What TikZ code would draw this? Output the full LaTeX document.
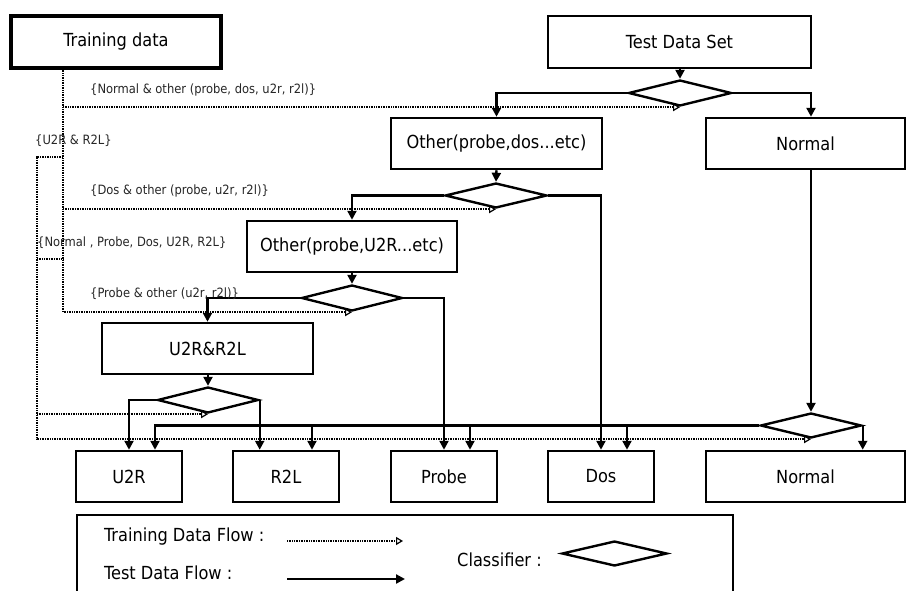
\documentclass[tikz,border=0pt]{standalone}
\usepackage{fontspec}
\setmainfont{DejaVu Sans Condensed}
\usetikzlibrary{shapes.geometric,arrows.meta,calc}
\begin{document}
\begin{tikzpicture}[x=1pt,y=-1pt,
  box/.style={draw,rectangle,line width=2.5pt,inner sep=0pt,
    font=\fontsize{18}{21}\selectfont},
  decision/.style={draw,diamond,line width=2.4pt,inner sep=0pt},
  testflow/.style={line width=2.4pt,-{Triangle[length=9pt,width=9pt]}},
  trainflow/.style={line width=2pt,dash pattern=on 1pt off 0.7pt,
    -{Triangle[open,length=7pt,width=8pt,line width=1.2pt]}},
  trainline/.style={line width=2pt,dash pattern=on 1pt off 0.7pt},
  setlabel/.style={font=\fontsize{12.8}{15}\selectfont,text=black!85,
    inner sep=0pt,anchor=west},
  legendtext/.style={font=\fontsize{18}{21}\selectfont,inner sep=0pt,
    anchor=base west},
]
\useasboundingbox (0,0) rectangle (906,590);
\clip (0,0) rectangle (906,590);

% ---- data sources ----
\node[box,minimum width=210pt,minimum height=52pt,line width=3.4pt] (train) at (116,42) {Training data};
\node[box,minimum width=263pt,minimum height=52pt] (test) at (679.5,42) {Test Data Set};

% ---- classifier cascade ----
\node[decision,minimum width=103pt,minimum height=26pt] (d1) at (680,93) {};
\node[box,minimum width=211pt,minimum height=51pt] (oth1) at (496.5,143.5) {Other(probe,dos...etc)};
\node[box,minimum width=199pt,minimum height=51pt] (norm1) at (805.5,143.5) {Normal};
\node[decision,minimum width=102pt,minimum height=25pt] (d2) at (496,195.5) {};
\node[box,minimum width=210pt,minimum height=51pt] (oth2) at (352,246.5) {Other(probe,U2R...etc)};
\node[decision,minimum width=101pt,minimum height=26pt] (d3) at (352,298) {};
\node[box,minimum width=211pt,minimum height=51pt] (ur) at (207.5,348.5) {U2R\&R2L};
\node[decision,minimum width=101pt,minimum height=26pt] (d4) at (208,400) {};
\node[decision,minimum width=101pt,minimum height=25pt] (d5) at (811,425.5) {};

% ---- final classes ----
\node[box,minimum width=106pt,minimum height=51pt] (u2r) at (129,476.5) {U2R};
\node[box,minimum width=106pt,minimum height=51pt] (r2l) at (286,476.5) {R2L};
\node[box,minimum width=106pt,minimum height=51pt] (probe) at (444,476.5) {Probe};
\node[box,minimum width=106pt,minimum height=51pt] (dos) at (601,476.5) {Dos};
\node[box,minimum width=199pt,minimum height=51pt] (norm2) at (805.5,476.5) {Normal};

% ---- test data flow ----
\draw[testflow] (test.south -| d1.north) -- (d1.north);
\draw[testflow] (d1.west) -| (oth1.north);
\draw[testflow] (d1.east) -| (norm1.north -| d5.north);
\draw[testflow] (norm1.south -| d5.north) -- (d5.north);
\draw[testflow] (oth1.south) -- (d2.north);
\draw[testflow] (d2.west) -| (oth2.north);
\draw[testflow] (d2.east) -| (dos.north);
\draw[testflow] (oth2.south) -- (d3.north);
\draw[testflow] (d3.west) -| (ur.north);
\draw[testflow] (d3.east) -| (probe.north);
\draw[testflow] (ur.south -| d4.north) -- (d4.north);
\draw[testflow] (d4.west) -| (u2r.north);
\draw[testflow] (d4.east) -| (r2l.north -| d4.east);
\draw[testflow] (d5.east) -- (d5.east |- norm2.north);
\draw[testflow] (d5.west) -| ([xshift=26pt]u2r.north);
\draw[testflow] ([xshift=26pt]r2l.north |- d5.west) -- ([xshift=26pt]r2l.north);
\draw[testflow] ([xshift=26pt]probe.north |- d5.west) -- ([xshift=26pt]probe.north);
\draw[testflow] ([xshift=26pt]dos.north |- d5.west) -- ([xshift=26pt]dos.north);

% ---- training data flow ----
\coordinate (tv) at ([xshift=-53pt]train.south);
\coordinate (ov1) at (37,157);
\coordinate (ov2) at (37,259);
\draw[trainflow] (tv) |- (d3.south);
\draw[trainflow] (tv |- d1.south) -- (d1.south);
\draw[trainflow] (tv |- d2.south) -- (d2.south);
\draw[trainflow] (ov1 -| tv) -- (ov1) |- (d5.south);
\draw[trainflow] (ov1 |- d4.south) -- (d4.south);
\draw[trainline] (ov2) -- (ov2 -| tv);

% ---- training set labels ----
\node[setlabel] (l1) at (90,90) {\{Normal \& other (probe, dos, u2r, r2l)\}};
\node[setlabel] (l2) at (35,140.5) {\{U2R \& R2L\}};
\node[setlabel] (l3) at (90,191) {\{Dos \& other (probe, u2r, r2l)\}};
\node[setlabel] (l4) at (37,242.5) {\{Normal , Probe, Dos, U2R, R2L\}};
\node[setlabel] (l5) at (90,294) {\{Probe \& other (u2r, r2l)\}};

% ---- legend ----
\draw[line width=2.4pt] (77,600) |- (733,515) -- (733,600);
\node[legendtext] (ltrain) at (104,541) {Training Data Flow :};
\node[legendtext] (ltest) at (104,579) {Test Data Flow :};
\node[legendtext] (lcls) at (457,566) {Classifier :};
\coordinate (ta) at (287,541);
\coordinate (tb) at (403,541);
\coordinate (sa) at (287,579);
\coordinate (sb) at (405,579);
\draw[trainflow] (ta) -- (tb);
\draw[testflow] (sa) -- (sb);
\node[decision,minimum width=105pt,minimum height=25pt] (dl) at (614.5,553.5) {};
\end{tikzpicture}
\end{document}
